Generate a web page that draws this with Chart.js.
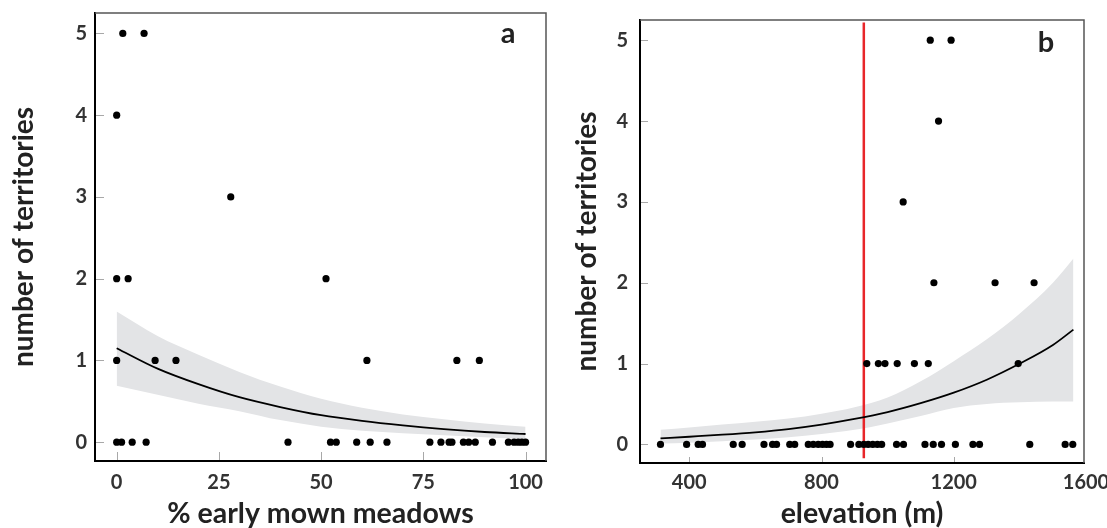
<!DOCTYPE html>
<html><head><meta charset="utf-8">
<script src="https://cdn.jsdelivr.net/npm/chart.js@4.4.0/dist/chart.umd.min.js"></script>
<style>
html,body{margin:0;padding:0;background:#fff;overflow:hidden;width:1107px;height:528px;position:relative}
#pa{position:absolute;left:0;top:0;width:560px;height:528px}
#pb{position:absolute;left:553px;top:0;width:580px;height:528px}
</style></head><body>
<div id="pa"><canvas id="ca"></canvas></div>
<div id="pb"><canvas id="cb"></canvas></div>
<script>
// ---------- Panel a data ----------
const meadowPct  = [1.5, 6.7, 0, 27.9, 0, 2.8, 51.2, 0, 9.4, 14.5, 61.2, 83.2, 88.7,
  0, 1.2, 3.8, 7.2, 41.9, 52.3, 53.7, 58.7, 62, 66.1, 76.6, 79.3, 81.3, 82.0, 84.8, 86.1, 87.7, 91.9, 95.8, 97.2, 98.2, 99.1, 100];
const meadowTerr = [5, 5, 4, 3, 2, 2, 2, 1, 1, 1, 1, 1, 1,
  0, 0, 0, 0, 0, 0, 0, 0, 0, 0, 0, 0, 0, 0, 0, 0, 0, 0, 0, 0, 0, 0, 0];
const fitMeadowX  = [0, 10, 20, 30, 40, 50, 60, 70, 80, 90, 100];
const fitMeadowY  = [1.15, 0.90, 0.71, 0.55, 0.43, 0.33, 0.26, 0.205, 0.16, 0.125, 0.10];
const fitMeadowHi = [1.60, 1.30, 1.07, 0.86, 0.68, 0.53, 0.42, 0.34, 0.28, 0.23, 0.19];
const fitMeadowLo = [0.69, 0.58, 0.47, 0.38, 0.27, 0.19, 0.14, 0.11, 0.085, 0.06, 0.035];
const meadowTicks = [0, 25, 50, 75, 100];

// ---------- Panel b data ----------
const elevM = [1129, 1192, 1154, 1047, 1140, 1325, 1443, 937, 972, 992, 1029, 1081, 1123, 1395,
  313, 392, 427, 440, 533, 560, 626, 652, 664, 704, 719, 760, 775, 790, 803, 815, 826,
  888, 913, 928, 941, 955, 969, 982, 1027, 1048, 1113, 1138, 1163, 1205, 1258, 1278, 1430, 1537, 1560];
const elevTerr = [5, 5, 4, 3, 2, 2, 2, 1, 1, 1, 1, 1, 1, 1,
  0, 0, 0, 0, 0, 0, 0, 0, 0, 0, 0, 0, 0, 0, 0, 0, 0,
  0, 0, 0, 0, 0, 0, 0, 0, 0, 0, 0, 0, 0, 0, 0, 0, 0, 0];
const fitElevX  = [313, 400, 500, 600, 700, 800, 900, 1000, 1100, 1200, 1300, 1400, 1500, 1562];
const fitElevY  = [0.074, 0.095, 0.12, 0.15, 0.19, 0.245, 0.315, 0.40, 0.51, 0.64, 0.80, 1.00, 1.23, 1.42];
const fitElevHi = [0.18, 0.21, 0.245, 0.28, 0.32, 0.38, 0.46, 0.58, 0.78, 1.03, 1.30, 1.62, 2.00, 2.30];
const fitElevLo = [0.01, 0.02, 0.04, 0.06, 0.09, 0.13, 0.18, 0.26, 0.35, 0.45, 0.50, 0.52, 0.53, 0.53];
const thresholdElev = 928;
const thresholdSpan = [-0.17, 5.22];
const elevTicks = [400, 800, 1200, 1600];

const yTickVals = [0, 1, 2, 3, 4, 5];

const FONT = 'Lato, "Open Sans", sans-serif';
const pts = (xs, ys) => xs.map((x, i) => ({x: x, y: ys[i]}));

const framePlugin = {
  id: 'frame',
  afterDraw(chart, args, o) {
    const ctx = chart.ctx, a = chart.chartArea, sx = chart.scales.x, sy = chart.scales.y;
    ctx.save();
    ctx.strokeStyle = '#a8a8a8'; ctx.lineWidth = 1;
    sy.ticks.forEach(t => {
      const p = Math.round(sy.getPixelForValue(t.value)) + 0.5;
      ctx.beginPath(); ctx.moveTo(a.left + 1, p); ctx.lineTo(a.left + o.yLen, p); ctx.stroke();
    });
    sx.ticks.forEach(t => {
      if (t.value > sx.max || t.value < sx.min) return;
      const p = Math.round(sx.getPixelForValue(t.value)) + 0.5;
      ctx.beginPath(); ctx.moveTo(p, a.bottom - 1); ctx.lineTo(p, a.bottom - o.xLen); ctx.stroke();
    });
    ctx.strokeStyle = '#555'; ctx.lineWidth = 1.5;
    ctx.beginPath(); ctx.moveTo(a.left, a.top); ctx.lineTo(a.right, a.top); ctx.lineTo(a.right, a.bottom); ctx.stroke();
    ctx.fillStyle = '#222';
    ctx.font = 'bold ' + o.letterSize + 'px ' + FONT;
    ctx.textAlign = 'center'; ctx.textBaseline = 'alphabetic';
    ctx.fillText(o.letter, a.right - o.letterDx, a.top + o.letterDy);
    ctx.restore();
  }
};

function makeChart(id, p) {
  const datasets = [
    {type: 'scatter', data: pts(p.xs, p.ys), pointRadius: 3.6, pointHoverRadius: 3.6,
     pointBackgroundColor: '#000', pointBorderWidth: 0, order: 0},
    {type: 'line', data: pts(p.fx, p.fy), borderColor: '#000', borderWidth: 1.8, pointRadius: 0,
     cubicInterpolationMode: 'monotone', fill: false, order: 1},
    {type: 'line', data: pts(p.fx, p.hi), borderWidth: 0, borderColor: 'rgba(0,0,0,0)', pointRadius: 0,
     cubicInterpolationMode: 'monotone', fill: '+1', backgroundColor: '#e3e4e6', order: 3},
    {type: 'line', data: pts(p.fx, p.lo), borderWidth: 0, borderColor: 'rgba(0,0,0,0)', pointRadius: 0,
     cubicInterpolationMode: 'monotone', fill: false, order: 4}
  ];
  if (p.redX !== undefined) {
    datasets.push({type: 'line', data: pts([p.redX, p.redX], p.redY), borderColor: '#e8262a',
      borderWidth: 2.5, pointRadius: 0, fill: false, order: 2});
  }
  return new Chart(document.getElementById(id), {
    type: 'scatter',
    data: {datasets: datasets},
    plugins: [framePlugin],
    options: {
      responsive: true, maintainAspectRatio: false, animation: false, devicePixelRatio: 1,
      layout: {padding: {left: 0, right: p.padRight, top: p.padTop, bottom: 0}},
      plugins: {legend: {display: false}, tooltip: {enabled: false},
        frame: {yLen: p.yLen, xLen: p.xLen, letter: p.letter, letterSize: 29, letterDx: 38, letterDy: p.letterDy}},
      scales: {
        x: {type: 'linear', min: p.xmin, max: p.xmax,
          afterBuildTicks: s => { s.ticks = p.xticks.map(v => ({value: v})); },
          afterFit: s => { s.height = p.xAxisH; },
          grid: {display: false, drawTicks: false},
          border: {display: true, color: '#000', width: 2},
          ticks: {padding: p.xTickPad, color: '#333', autoSkip: false, maxRotation: 0,
            font: {family: FONT, size: 20, weight: 'bold'}, callback: v => String(v)},
          title: {display: true, text: p.xtitle, color: '#222', padding: {top: 0, bottom: -3},
            font: {family: FONT, size: 28.5, weight: 'bold'}}
        },
        y: {type: 'linear', min: -0.23, max: 5.25,
          afterBuildTicks: s => { s.ticks = yTickVals.map(v => ({value: v})); },
          afterFit: s => { s.width = p.yAxisW; },
          grid: {display: false, drawTicks: true, tickLength: p.yTickGap, tickColor: 'rgba(0,0,0,0)'},
          border: {display: true, color: '#000', width: 2},
          ticks: {padding: 1, color: '#333', font: {family: FONT, size: 20, weight: 'bold'},
            callback: v => String(v)},
          title: {display: true, text: 'number of territories', color: '#222',
            padding: {top: p.yTitlePad, bottom: 0}, font: {family: FONT, size: 28, weight: 'bold'}}
        }
      }
    }
  });
}

makeChart('ca', {
  xs: meadowPct, ys: meadowTerr, fx: fitMeadowX, fy: fitMeadowY, hi: fitMeadowHi, lo: fitMeadowLo,
  xmin: -5.3, xmax: 105, xticks: meadowTicks, xtitle: '% early mown meadows',
  padRight: 14, padTop: 13, xAxisH: 67, yAxisW: 95, xTickPad: 10, yTickGap: 7, yTitlePad: 7,
  yLen: 9, xLen: 9, letter: 'a', letterDy: 30
});
makeChart('cb', {
  xs: elevM, ys: elevTerr, fx: fitElevX, fy: fitElevY, hi: fitElevHi, lo: fitElevLo,
  redX: thresholdElev, redY: thresholdSpan,
  xmin: 251, xmax: 1594, xticks: elevTicks, xtitle: 'elevation (m)',
  padRight: 49, padTop: 20, xAxisH: 65, yAxisW: 87, xTickPad: 8, yTickGap: 11, yTitlePad: 17,
  yLen: 8, xLen: 6, letter: 'b', letterDy: 32
});
</script>
</body></html>
